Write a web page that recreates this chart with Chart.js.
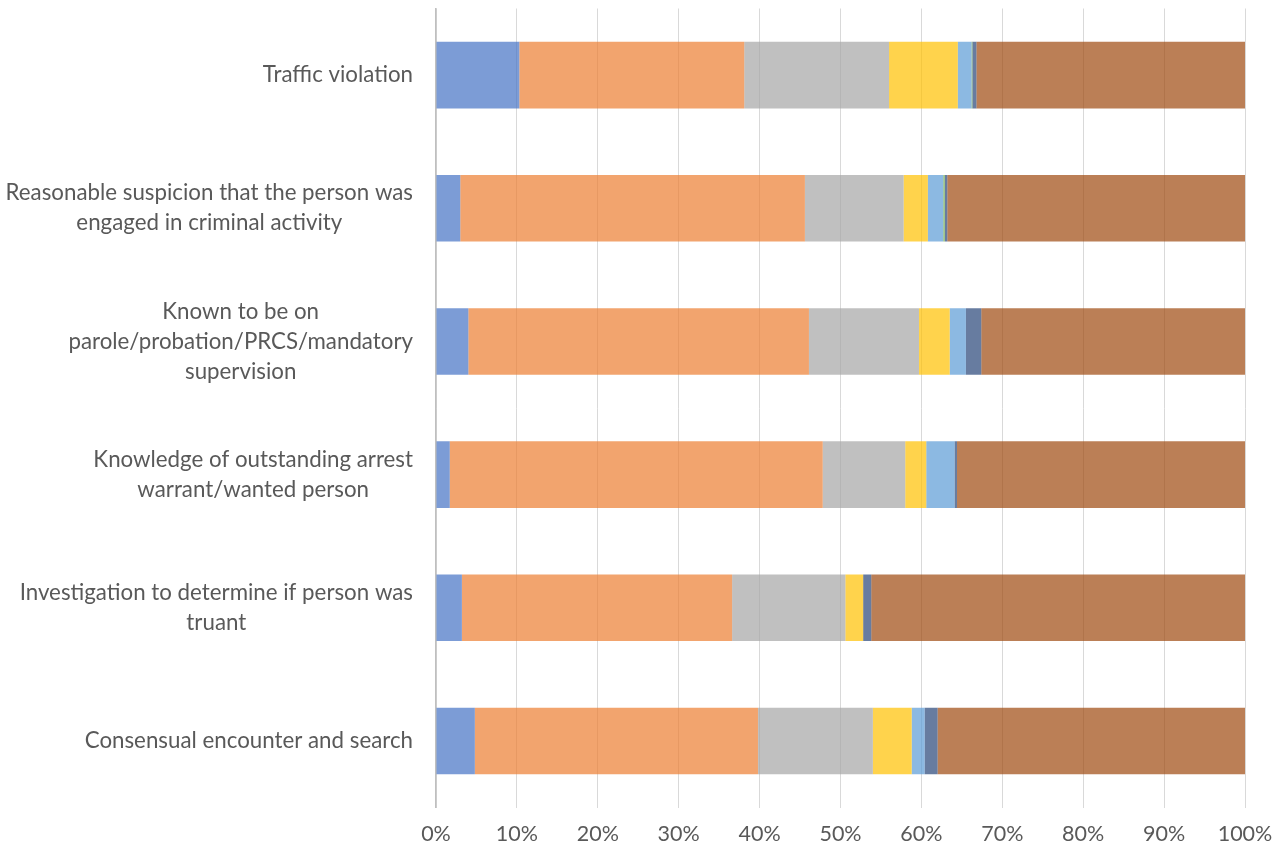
<!DOCTYPE html>
<html><head><meta charset="utf-8">
<script src="https://cdn.jsdelivr.net/npm/chart.js@4/dist/chart.umd.min.js"></script>
<style>html,body{margin:0;padding:0;background:#fff;}#wrap{width:1288px;height:853px;}</style>
</head><body><div id="wrap"><canvas id="c" width="1288" height="853"></canvas></div>
<script>
const categories = [
  ["Traffic violation"],
  ["Reasonable suspicion that the person was", "engaged in criminal activity"],
  ["Known to be on", "parole/probation/PRCS/mandatory", "supervision"],
  ["Knowledge of outstanding arrest", "warrant/wanted person"],
  ["Investigation to determine if person was", "truant"],
  ["Consensual encounter and search"]
];
const series1 = [10.3, 3.0, 4.0, 1.7, 3.2, 4.8];
const series2 = [27.8, 42.6, 42.1, 46.1, 33.4, 35.0];
const series3 = [17.9, 12.2, 13.6, 10.2, 14.0, 14.2];
const series4 = [8.5, 3.0, 3.8, 2.6, 2.2, 4.8];
const series5 = [1.7, 1.9, 2.0, 3.5, 0, 1.6];
const series6 = [0.1, 0.2, 0, 0, 0, 0];
const series7 = [0.5, 0.3, 1.9, 0.3, 1.0, 1.6];
const series8 = [33.2, 36.8, 32.6, 35.6, 46.2, 38.0];
const xTickValues = [0, 10, 20, 30, 40, 50, 60, 70, 80, 90, 100];

const FONT = 'Lato';
const FS_Y = 22.3;
const FS_X = 21.5;
const TEXT = '#595959';

const seriesList = [series1, series2, series3, series4, series5, series6, series7, series8];
const colors = [
  'rgba(68,114,196,0.7)', 'rgba(237,125,49,0.7)', 'rgba(165,165,165,0.7)', 'rgba(255,192,0,0.7)',
  'rgba(91,155,213,0.7)', 'rgba(112,173,71,0.7)', 'rgba(38,68,120,0.7)', 'rgba(158,72,14,0.7)'
];

const yLabelPlugin = {
  id: 'yLabels',
  afterDraw(chart) {
    const ctx = chart.ctx, y = chart.scales.y;
    ctx.save();
    ctx.font = FS_Y + 'px ' + FONT;
    ctx.fillStyle = TEXT;
    ctx.textAlign = 'center';
    ctx.textBaseline = 'middle';
    categories.forEach((lines, i) => {
      const cy = y.getPixelForValue(i);
      const w = Math.max(...lines.map(l => ctx.measureText(l).width));
      const cx = chart.chartArea.left - 23 - w / 2;
      lines.forEach((l, k) => ctx.fillText(l, cx, cy + (k - (lines.length - 1) / 2) * 30));
    });
    ctx.restore();
  }
};

new Chart(document.getElementById('c'), {
  type: 'bar',
  data: {
    labels: categories.map(c => c.join(' ')),
    datasets: seriesList.map((d, i) => ({
      label: 'Series ' + (i + 1),
      data: d,
      backgroundColor: colors[i],
      borderWidth: 0,
      barPercentage: 0.5,
      categoryPercentage: 1.0
    }))
  },
  options: {
    indexAxis: 'y',
    responsive: false,
    animation: false,
    devicePixelRatio: 1,
    layout: { padding: { top: 8.5, right: 43, left: 0, bottom: 0 } },
    plugins: { legend: { display: false }, tooltip: { enabled: false } },
    scales: {
      x: {
        stacked: true,
        min: 0, max: 100,
        afterBuildTicks(scale) { scale.ticks = xTickValues.map(v => ({ value: v })); },
        ticks: {
          callback: v => v + '%',
          color: TEXT,
          font: { family: FONT, size: FS_X },
          padding: 14,
          maxRotation: 0
        },
        grid: { color: '#d9d9d9', lineWidth: 1, drawTicks: false },
        border: { display: false },
        afterFit(scale) { scale.height = 45.5; }
      },
      y: {
        stacked: true,
        ticks: { display: false },
        grid: { display: false },
        border: { display: true, color: '#bfbfbf', width: 1.5 },
        afterFit(scale) { scale.width = 436; }
      }
    }
  },
  plugins: [yLabelPlugin]
});
</script>
</body></html>
